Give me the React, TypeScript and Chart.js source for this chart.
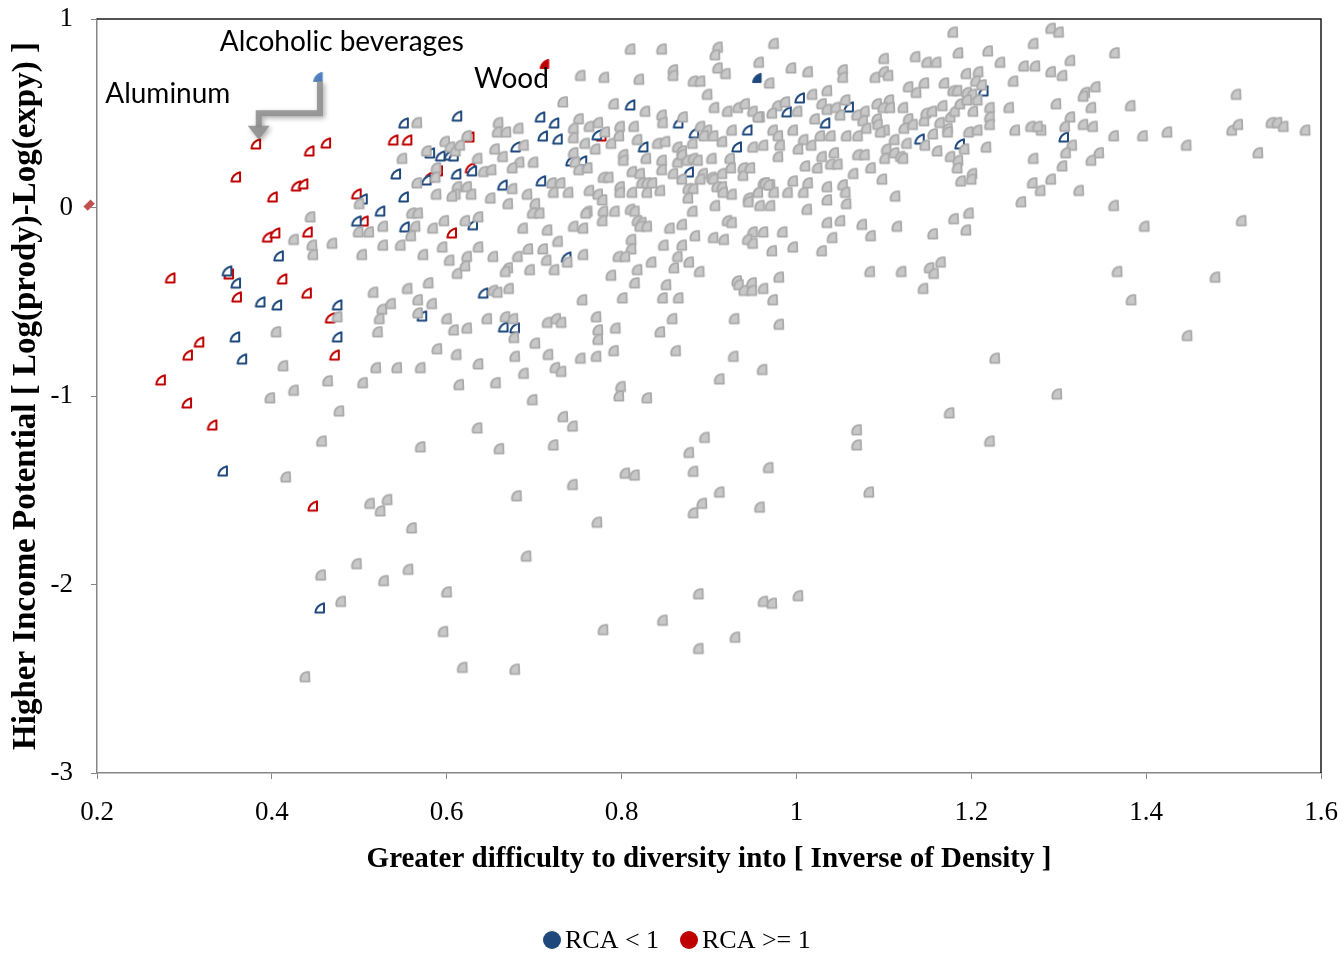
import React, { useEffect, useRef } from "react";
import { Chart, registerables } from "chart.js";
Chart.register(...registerables);

// ---------------- data ----------------
const xTickValues = [0.2, 0.4, 0.6, 0.8, 1.0, 1.2, 1.4, 1.6];
const yTickValues = [1, 0, -1, -2, -3];

const legendLabels = ["RCA < 1", "RCA >= 1"];
const xTitle = "Greater difficulty to diversity into [ Inverse of Density ]";
const yTitle = "Higher Income Potential [ Log(prody)-Log(expy) ]";

// grey: all other products
const greyPoints: [number, number][] = [
  [0.810,0.84],[0.846,0.84],[0.910,0.85],[0.907,0.81],[0.974,0.87],[0.957,0.77],[0.753,0.70],[0.780,0.69],[0.820,0.68],[0.859,0.73],
  [0.859,0.70],[0.882,0.67],[0.890,0.67],[0.910,0.74],[0.919,0.71],[0.969,0.66],[0.994,0.74],[1.013,0.72],[1.053,0.73],[1.053,0.69],
  [0.733,0.56],[0.791,0.55],[0.827,0.51],[0.846,0.49],[0.898,0.60],[0.906,0.53],[0.921,0.51],[0.933,0.53],[0.941,0.55],[0.950,0.51],
  [0.958,0.48],[0.978,0.54],[0.987,0.56],[0.972,0.50],[1.001,0.51],[1.018,0.60],[1.035,0.62],[1.029,0.55],[1.035,0.52],[1.045,0.53],
  [1.056,0.57],[1.050,0.49],[0.751,0.47],[0.773,0.45],[0.763,0.43],[0.745,0.42],[0.781,0.40],[0.798,0.43],[0.814,0.43],[0.847,0.45],
  [0.870,0.48],[0.890,0.43],[0.898,0.41],[0.926,0.41],[0.956,0.48],[0.973,0.41],[0.979,0.38],[0.996,0.41],[1.021,0.47],[1.008,0.36],
  [1.027,0.38],[1.039,0.38],[1.057,0.38],[0.745,0.37],[0.758,0.34],[0.770,0.31],[0.788,0.34],[0.797,0.38],[0.818,0.36],[0.841,0.34],
  [0.850,0.35],[0.864,0.32],[0.869,0.30],[0.881,0.34],[0.894,0.38],[0.905,0.38],[0.915,0.35],[0.950,0.32],[0.962,0.33],[0.981,0.33],
  [0.979,0.27],[1.002,0.31],[1.017,0.33],[1.029,0.27],[1.043,0.29],[0.745,0.29],[0.747,0.24],[0.751,0.20],[0.761,0.21],[0.802,0.28],
  [0.802,0.25],[0.812,0.19],[0.821,0.18],[0.828,0.26],[0.846,0.25],[0.846,0.20],[0.864,0.24],[0.869,0.28],[0.875,0.25],[0.882,0.26],
  [0.887,0.25],[0.893,0.18],[0.903,0.26],[0.903,0.16],[0.915,0.18],[0.924,0.26],[0.925,0.21],[0.939,0.21],[0.939,0.17],[0.947,0.21],
  [0.962,0.13],[0.970,0.12],[0.996,0.14],[1.010,0.22],[1.024,0.21],[1.039,0.23],[1.047,0.23],[1.053,0.12],[0.720,0.13],[0.730,0.13],
  [0.739,0.08],[0.722,0.08],[0.763,0.09],[0.773,0.07],[0.778,0.04],[0.779,0.16],[0.785,0.16],[0.798,0.11],[0.798,0.08],[0.812,0.08],
  [0.823,0.13],[0.829,0.13],[0.829,0.08],[0.835,0.13],[0.844,0.09],[0.859,0.18],[0.869,0.15],[0.876,0.10],[0.882,0.10],[0.876,0.05],
  [0.890,0.15],[0.905,0.15],[0.909,0.11],[0.915,0.11],[0.926,0.07],[0.916,0.08],[0.945,0.05],[0.945,0.03],[0.956,0.08],[0.964,0.13],
  [0.968,0.12],[0.974,0.08],[0.990,0.08],[1.008,0.08],[1.013,0.13],[1.035,0.11],[1.035,0.04],[1.056,0.08],[1.057,0.02],[0.761,-0.02],
  [0.779,-0.02],[0.778,-0.07],[0.792,-0.02],[0.810,-0.01],[0.815,-0.02],[0.818,-0.07],[0.823,-0.08],[0.821,-0.10],[0.829,-0.10],[0.881,-0.02],
  [0.907,0.01],[0.921,-0.07],[0.926,-0.08],[0.958,0.01],[0.970,0.01],[1.012,-0.01],[1.035,-0.08],[1.050,-0.07],[0.745,-0.10],[0.756,-0.11],
  [0.855,-0.11],[0.869,-0.09],[0.884,-0.15],[0.905,-0.16],[0.950,-0.13],[0.962,-0.13],[0.984,-0.13],[1.041,-0.16],
  [1.179,0.93],[1.291,0.95],[1.300,0.93],[1.271,0.87],[1.364,0.82],[1.185,0.82],[1.219,0.83],[1.313,0.78],[1.100,0.79],[1.136,0.80],
  [1.149,0.77],[1.160,0.77],[1.233,0.77],[1.260,0.75],[1.273,0.75],[1.291,0.72],[1.304,0.70],[1.090,0.69],[1.100,0.72],[1.105,0.70],
  [1.194,0.71],[1.208,0.72],[1.205,0.67],[1.248,0.67],[1.128,0.64],[1.146,0.66],[1.169,0.66],[1.179,0.62],[1.184,0.62],[1.195,0.61],
  [1.201,0.60],[1.212,0.65],[1.137,0.61],[1.342,0.64],[1.330,0.61],[1.328,0.59],[1.092,0.55],[1.106,0.57],[1.099,0.53],[1.107,0.53],
  [1.122,0.53],[1.078,0.51],[1.069,0.49],[1.092,0.47],[1.093,0.44],[1.076,0.46],[1.080,0.42],[1.101,0.41],[1.096,0.40],[1.070,0.38],
  [1.128,0.47],[1.123,0.42],[1.133,0.44],[1.146,0.46],[1.148,0.50],[1.155,0.51],[1.167,0.54],[1.164,0.45],[1.176,0.48],[1.181,0.51],
  [1.187,0.55],[1.195,0.57],[1.207,0.57],[1.202,0.51],[1.173,0.42],[1.173,0.40],[1.156,0.39],[1.197,0.40],[1.207,0.41],[1.221,0.53],
  [1.221,0.48],[1.221,0.44],[1.243,0.53],[1.250,0.41],[1.268,0.43],[1.280,0.41],[1.276,0.43],[1.297,0.55],[1.313,0.48],[1.307,0.43],
  [1.328,0.44],[1.339,0.43],[1.337,0.53],[1.382,0.54],[1.363,0.38],[1.396,0.38],[1.112,0.36],[1.126,0.34],[1.147,0.33],[1.161,0.30],
  [1.192,0.31],[1.217,0.32],[1.176,0.27],[1.185,0.25],[1.184,0.21],[1.070,0.28],[1.078,0.28],[1.103,0.31],[1.101,0.26],[1.112,0.29],
  [1.119,0.27],[1.122,0.26],[1.085,0.21],[1.065,0.18],[1.098,0.15],[1.201,0.18],[1.200,0.15],[1.188,0.14],[1.271,0.26],[1.315,0.33],
  [1.308,0.29],[1.304,0.22],[1.346,0.29],[1.337,0.25],[1.270,0.13],[1.279,0.09],[1.291,0.15],[1.323,0.09],[1.257,0.03],[1.363,0.01],
  [1.113,0.06],
  [1.075,-0.09],[1.085,-0.15],[1.115,-0.10],[1.156,-0.14],[1.180,-0.06],[1.197,-0.03],[1.194,-0.12],[1.398,-0.10],[1.084,-0.34],[1.120,-0.34],
  [1.152,-0.32],[1.157,-0.35],[1.165,-0.29],[1.145,-0.43],[1.367,-0.34],[1.383,-0.49],[1.227,-0.80],[1.298,-0.99],[1.175,-1.09],[1.069,-1.18],
  [1.069,-1.26],[1.221,-1.24],[1.083,-1.51],
  [1.503,0.60],[1.424,0.40],[1.446,0.33],[1.498,0.41],[1.505,0.44],[1.543,0.45],[1.550,0.45],[1.557,0.43],[1.582,0.41],[1.528,0.29],
  [1.509,-0.07],[1.479,-0.37],[1.447,-0.68],
  [0.670,0.02],[0.701,0.02],[0.698,-0.03],[0.706,-0.03],[0.759,-0.03],[0.687,-0.11],[0.715,-0.12],[0.727,-0.18],[0.693,-0.22],[0.710,-0.22],
  [0.681,-0.26],[0.714,-0.28],[0.723,-0.33],[0.695,-0.33],[0.670,-0.32],[0.667,-0.34],[0.738,-0.29],[0.756,-0.25],[0.811,-0.17],[0.811,-0.22],
  [0.796,-0.26],[0.804,-0.26],[0.917,-0.17],[0.944,-0.17],[0.950,-0.19],[0.972,-0.23],[0.996,-0.21],[1.029,-0.23],[0.848,-0.20],[0.869,-0.20],
  [0.864,-0.26],[0.860,-0.32],[0.877,-0.29],[0.889,-0.34],[0.834,-0.29],[0.818,-0.33],[0.788,-0.36],[0.671,-0.43],[0.755,-0.49],[0.801,-0.48],
  [0.847,-0.48],[0.851,-0.41],[0.865,-0.48],[0.932,-0.39],[0.934,-0.41],[0.940,-0.44],[0.949,-0.40],[0.949,-0.44],[0.962,-0.43],[0.973,-0.49],
  [0.980,-0.37],[0.667,-0.58],[0.676,-0.59],[0.715,-0.61],[0.725,-0.59],[0.731,-0.61],[0.771,-0.58],[0.773,-0.65],[0.773,-0.70],[0.793,-0.64],
  [0.858,-0.59],[0.844,-0.66],[0.929,-0.59],[0.980,-0.62],[0.677,-0.69],[0.701,-0.72],[0.716,-0.78],[0.678,-0.79],[0.753,-0.80],[0.771,-0.79],
  [0.791,-0.76],[0.862,-0.76],[0.928,-0.79],[0.961,-0.86],[0.724,-0.85],[0.731,-0.87],[0.688,-0.88],[0.912,-0.91],[0.799,-0.95],[0.797,-1.00],
  [0.829,-1.01],[0.698,-1.02],[0.733,-1.11],[0.744,-1.16],[0.895,-1.22],[0.722,-1.26],
  [0.464,-0.92],[0.504,-0.93],[0.614,-0.94],[0.656,-0.93],[0.477,-1.08],[0.635,-1.17],[0.457,-1.24],[0.570,-1.27],[0.660,-1.28],[0.877,-1.30],
  [0.882,-1.40],[0.804,-1.41],[0.815,-1.42],[0.968,-1.38],[0.744,-1.47],[0.680,-1.53],[0.512,-1.57],[0.532,-1.55],[0.524,-1.61],[0.560,-1.70],
  [0.772,-1.67],[0.912,-1.51],[0.892,-1.57],[0.882,-1.62],[0.958,-1.59],[0.691,-1.85],[0.497,-1.89],[0.456,-1.95],[0.556,-1.92],[0.528,-1.98],
  [0.600,-2.04],[0.479,-2.09],[0.888,-2.05],[0.962,-2.09],[0.972,-2.10],[1.002,-2.06],[0.847,-2.19],[0.779,-2.24],[0.596,-2.25],[0.930,-2.28],
  [0.888,-2.34],[0.618,-2.44],[0.678,-2.45],[0.438,-2.49],
  [0.566,0.45],[0.659,0.45],[0.658,0.40],[0.668,0.40],[0.682,0.42],[0.549,0.26],[0.577,0.30],[0.598,0.35],[0.604,0.32],[0.610,0.30],
  [0.615,0.33],[0.623,0.38],[0.635,0.26],[0.655,0.31],[0.664,0.27],[0.688,0.33],[0.699,0.24],[0.683,0.24],[0.675,0.21],[0.642,0.19],
  [0.651,0.20],[0.588,0.21],[0.587,0.16],[0.566,0.13],[0.612,0.11],[0.623,0.11],[0.610,0.07],[0.606,0.06],[0.628,0.07],[0.650,0.05],
  [0.675,0.10],[0.692,0.07],[0.588,0.07],[0.560,-0.03],[0.567,-0.03],[0.500,0.02],[0.527,-0.10],[0.564,-0.10],[0.559,-0.15],[0.584,-0.11],
  [0.597,-0.07],[0.621,-0.07],[0.636,-0.05],[0.499,-0.13],[0.511,-0.13],[0.527,-0.20],[0.547,-0.20],[0.573,-0.25],[0.595,-0.21],[0.603,-0.28],
  [0.623,-0.26],[0.636,-0.21],[0.653,-0.26],[0.503,-0.25],[0.516,-0.45],[0.555,-0.43],[0.579,-0.40],[0.567,-0.49],[0.612,-0.35],[0.621,-0.31],
  [0.653,-0.44],[0.658,-0.45],[0.815,-0.40],[0.444,-0.05],
  [0.447,-0.25],[0.526,-0.54],[0.536,-0.51],[0.523,-0.59],[0.521,-0.66],[0.475,-0.58],[0.405,-0.66],[0.413,-0.84],[0.519,-0.85],[0.543,-0.85],
  [0.398,-1.01],[0.425,-0.97],[0.416,-1.43],[0.425,-0.17],[0.446,-0.20],[0.469,-0.19],
  [0.583,-0.51],[0.567,-0.56],[0.600,-0.59],[0.608,-0.65],[0.623,-0.64],[0.611,-0.78],[0.589,-0.75],[0.570,-0.85],[0.636,-0.83],[0.646,-0.59],
];

// RCA < 1 (hollow dark-blue markers)
const rcaBelowPoints: [number, number][] = [
  [0.551,0.448],[0.612,0.485],[0.581,0.289],[0.593,0.273],[0.603,0.278],[0.608,0.273],[0.542,0.178],[0.577,0.146],[0.611,0.178],[0.629,0.194],
  [0.504,0.045],[0.551,0.056],[0.524,-0.019],[0.497,-0.072],[0.552,-0.103],[0.630,-0.092],[0.664,0.119],[0.679,0.321],[0.707,0.480],[0.723,0.448],
  [0.710,0.379],[0.727,0.363],[0.742,0.247],[0.755,0.247],[0.708,0.141],[0.772,0.385],[0.810,0.544],[0.825,0.321],[0.737,-0.263],[0.642,-0.454],
  [1.004,0.581],[0.989,0.507],[1.060,0.533],[1.033,0.448],[0.944,0.411],[0.932,0.321],[1.141,0.363],[1.187,0.337],[1.214,0.618],[1.306,0.374],
  [0.883,0.395],[0.865,0.448],[0.877,0.188],
  [0.408,-0.257],[0.349,-0.337],[0.359,-0.401],[0.387,-0.501],[0.406,-0.517],[0.475,-0.517],[0.358,-0.687],[0.366,-0.804],[0.475,-0.687],[0.344,-1.398],
  [0.455,-2.125],[0.665,-0.634],[0.678,-0.639],[0.572,-0.576],
];

// RCA >= 1 (hollow red markers)
const rcaAbovePoints: [number, number][] = [
  [0.284,-0.374],[0.351,-0.353],[0.412,-0.379],[0.360,-0.475],[0.440,-0.454],[0.467,-0.586],[0.317,-0.714],[0.304,-0.783],[0.472,-0.783],[0.273,-0.915],
  [0.303,-1.037],[0.332,-1.154],[0.447,-1.584],[0.382,0.337],[0.443,0.300],[0.462,0.342],[0.359,0.162],[0.401,0.056],[0.428,0.114],[0.436,0.125],
  [0.395,-0.157],[0.404,-0.135],[0.441,-0.130],[0.539,0.358],[0.555,0.358],[0.626,0.374],[0.497,0.072],[0.505,-0.072],[0.580,0.162],[0.590,0.194],
  [0.627,0.210],[0.606,-0.135],[0.777,0.379],
];

// highlighted products
const alcoholicPoint: [number, number] = [0.453, 0.692];
const darkBlueFilledPoint: [number, number] = [0.955, 0.687];
const woodPoint: [number, number] = [0.712, 0.761];
const aluminumPoint: [number, number] = [0.191, 0.013];

// annotation anchors (data units)
const annotations = [
  { text: "Alcoholic beverages", x: 0.480, y: 0.878 },
  { text: "Aluminum", x: 0.281, y: 0.602 },
  { text: "Wood", x: 0.674, y: 0.682 },
];
const arrowPath: [number, number][] = [
  [0.455, 0.67], [0.455, 0.50], [0.385, 0.50], [0.385, 0.36],
];

// ---------------- marker images ----------------
function makeMarker(kind: "grey" | "hollow" | "filled", color: string): HTMLCanvasElement {
  const c = document.createElement("canvas");
  c.width = 14;
  c.height = 14;
  const ctx = c.getContext("2d")!;
  ctx.lineJoin = "round";
  ctx.beginPath();
  if (kind === "grey") {
    ctx.moveTo(11, 2.2);
    ctx.lineTo(11.4, 11.6);
    ctx.lineTo(2.6, 11.6);
    ctx.bezierCurveTo(1.4, 7, 4, 1.4, 11, 2.2);
    ctx.closePath();
    ctx.fillStyle = "#c8c8c8";
    ctx.fill();
    ctx.lineWidth = 1.8;
    ctx.strokeStyle = "#aaaaaa";
    ctx.stroke();
  } else {
    ctx.moveTo(11, 2.2);
    ctx.lineTo(11, 11.4);
    ctx.lineTo(2.4, 11.4);
    ctx.quadraticCurveTo(3.2, 4.2, 11, 2.2);
    ctx.closePath();
    if (kind === "filled") {
      ctx.fillStyle = color;
      ctx.fill();
      ctx.lineWidth = 1;
    } else {
      ctx.fillStyle = "#ffffff";
      ctx.fill();
      ctx.lineWidth = 2;
    }
    ctx.strokeStyle = color;
    ctx.stroke();
  }
  return c;
}

const BLUE = "#1f497d";
const RED = "#c00000";

const overlayPlugin = {
  id: "overlay",
  afterDatasetsDraw(chart: any) {
    const { ctx, chartArea, scales } = chart;
    const xs = scales.x;
    const ys = scales.y;
    ctx.save();
    // top and right frame
    ctx.strokeStyle = "#1a1a1a";
    ctx.lineWidth = 1.5;
    ctx.beginPath();
    ctx.moveTo(chartArea.left, chartArea.top);
    ctx.lineTo(chartArea.right, chartArea.top);
    ctx.lineTo(chartArea.right, chartArea.bottom);
    ctx.stroke();

    // Aluminum marker sits just left of the plot area (x < 0.2)
    const ax = xs.getPixelForValue(aluminumPoint[0]);
    const ay = ys.getPixelForValue(aluminumPoint[1]);
    ctx.save();
    ctx.translate(ax, ay);
    ctx.rotate(-Math.PI / 4);
    ctx.fillStyle = "#c0504d";
    ctx.fillRect(-5, -3, 10, 6);
    ctx.restore();

    // elbow arrow
    const pts = arrowPath.map(([x, y]) => [xs.getPixelForValue(x), ys.getPixelForValue(y)]);
    ctx.shadowColor = "rgba(0,0,0,0.35)";
    ctx.shadowBlur = 5;
    ctx.shadowOffsetX = 2;
    ctx.shadowOffsetY = 2;
    ctx.strokeStyle = "rgba(145,145,145,0.9)";
    ctx.lineWidth = 6;
    ctx.lineJoin = "miter";
    ctx.beginPath();
    ctx.moveTo(pts[0][0], pts[0][1]);
    for (let i = 1; i < pts.length - 1; i++) ctx.lineTo(pts[i][0], pts[i][1]);
    const last = pts[pts.length - 1];
    ctx.lineTo(last[0], last[1] - 12);
    ctx.stroke();
    ctx.fillStyle = "rgba(145,145,145,0.9)";
    ctx.beginPath();
    ctx.moveTo(last[0] - 11, last[1] - 14);
    ctx.lineTo(last[0] + 11, last[1] - 14);
    ctx.lineTo(last[0], last[1]);
    ctx.closePath();
    ctx.fill();
    ctx.restore();

    // text annotations
    ctx.save();
    ctx.fillStyle = "#000";
    ctx.font = "28px Lato";
    ctx.textAlign = "center";
    ctx.textBaseline = "middle";
    for (const a of annotations) {
      ctx.fillText(a.text, xs.getPixelForValue(a.x), ys.getPixelForValue(a.y));
    }
    ctx.restore();

    // legend
    ctx.save();
    ctx.font = "26px 'Liberation Serif'";
    ctx.textBaseline = "middle";
    ctx.textAlign = "left";
    const ly = 940;
    const items = [
      { color: BLUE, label: legendLabels[0], cx: 552 },
      { color: RED, label: legendLabels[1], cx: 689 },
    ];
    for (const it of items) {
      ctx.fillStyle = it.color;
      ctx.beginPath();
      ctx.arc(it.cx, ly, 9, 0, Math.PI * 2);
      ctx.fill();
      ctx.fillStyle = "#000";
      ctx.fillText(it.label, it.cx + 13, ly + 1);
    }
    ctx.restore();
  },
};

export default function App() {
  const ref = useRef<HTMLCanvasElement | null>(null);
  useEffect(() => {
    if (!ref.current) return;
    const greyImg = makeMarker("grey", "#bbb");
    const blueImg = makeMarker("hollow", BLUE);
    const redImg = makeMarker("hollow", RED);
    const alcImg = makeMarker("filled", "#4f81bd");
    const blueFillImg = makeMarker("filled", BLUE);
    const woodImg = makeMarker("filled", RED);
    const toXY = (arr: [number, number][]) => arr.map(([x, y]) => ({ x, y }));

    const chart = new Chart(ref.current, {
      type: "scatter",
      data: {
        datasets: [
          { label: "other", data: toXY(greyPoints), pointStyle: greyImg as any, pointRadius: 6 },
          { label: legendLabels[0], data: toXY(rcaBelowPoints), pointStyle: blueImg as any, pointRadius: 6 },
          { label: legendLabels[1], data: toXY(rcaAbovePoints), pointStyle: redImg as any, pointRadius: 6 },
          { label: "alc", data: toXY([alcoholicPoint]), pointStyle: alcImg as any, pointRadius: 6 },
          { label: "bluefill", data: toXY([darkBlueFilledPoint]), pointStyle: blueFillImg as any, pointRadius: 6 },
          { label: "wood", data: toXY([woodPoint]), pointStyle: woodImg as any, pointRadius: 6 },
        ],
      },
      options: {
        responsive: false,
        animation: false,
        events: [],
        layout: { padding: { top: 19, right: 22, left: 0, bottom: 0 } },
        plugins: { legend: { display: false }, tooltip: { enabled: false } },
        scales: {
          x: {
            type: "linear",
            min: 0.2,
            max: 1.6,
            afterFit: (s: any) => {
              s.height = 184;
              s.paddingLeft = 0;
              s.paddingRight = 0;
            },
            afterBuildTicks: (s: any) => { s.ticks = xTickValues.map((v) => ({ value: v })); },
            ticks: {
              padding: 18,
              color: "#000",
              font: { family: "'Liberation Serif'", size: 27 },
              callback: (v: any) => String(Number(Number(v).toFixed(1))),
            },
            grid: { display: true, drawOnChartArea: false, drawTicks: true, tickLength: 6, color: "#868686" },
            border: { display: true, color: "#868686", width: 1.5 },
            title: {
              display: true,
              text: xTitle,
              color: "#000",
              font: { family: "'Liberation Serif'", size: 29, weight: "bold" },
              padding: { top: 0, bottom: 80 },
            },
          },
          y: {
            type: "linear",
            min: -3,
            max: 1,
            afterFit: (s: any) => {
              s.width = 97;
              s.paddingTop = 0;
              s.paddingBottom = 0;
            },
            afterBuildTicks: (s: any) => { s.ticks = yTickValues.map((v) => ({ value: v })); },
            ticks: {
              padding: 18,
              color: "#000",
              font: { family: "'Liberation Serif'", size: 27 },
            },
            grid: { display: true, drawOnChartArea: false, drawTicks: true, tickLength: 6, color: "#868686" },
            border: { display: true, color: "#868686", width: 1.5 },
            title: {
              display: true,
              text: yTitle,
              color: "#000",
              font: { family: "'Liberation Serif'", size: 33, weight: "bold" },
              padding: { top: 7, bottom: 0 },
            },
          },
        },
      },
      plugins: [overlayPlugin],
    });
    return () => chart.destroy();
  }, []);

  return (
    <div style={{ position: "absolute", left: 0, top: 0, width: 1343, height: 957, background: "#fff" }}>
      <canvas ref={ref} width={1343} height={957} style={{ width: 1343, height: 957 }} />
    </div>
  );
}
